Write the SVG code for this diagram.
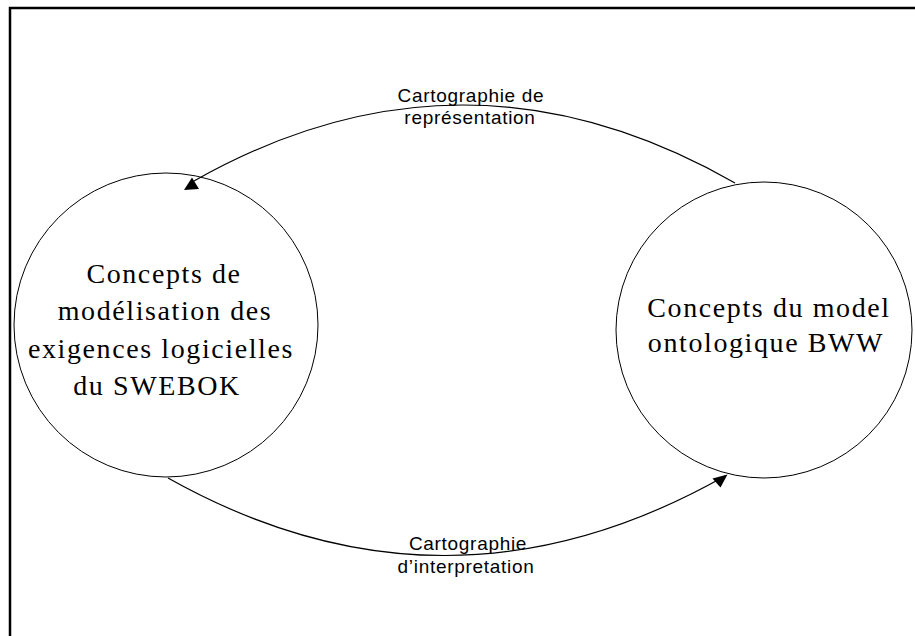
<svg xmlns="http://www.w3.org/2000/svg" width="915" height="636" viewBox="0 0 915 636">
  <style>
    .frame { fill: none; stroke: #000; stroke-width: 2.5; }
    .node { fill: none; stroke: #000; stroke-width: 1; }
    .node-text { font-family: "Liberation Serif", "Times New Roman", serif; font-size: 28px; letter-spacing: 1.6px; fill: #000; text-anchor: middle; }
    .edge { fill: none; stroke: #000; stroke-width: 1.2; }
    .head { fill: #000; stroke: none; }
    .edge-label { font-family: "Liberation Sans", Arial, sans-serif; font-size: 19px; letter-spacing: 0.7px; fill: #000; text-anchor: middle; }
  </style>

  <rect width="915" height="636" fill="#fff"/>
  <rect class="frame" x="10" y="8" width="920" height="650"/>

  <g id="node-swebok">
    <circle class="node" cx="166" cy="325" r="152"/>
    <text class="node-text" x="164" y="283">Concepts de</text>
    <text class="node-text" x="165" y="320">modélisation des</text>
    <text class="node-text" x="161" y="358">exigences logicielles</text>
    <text class="node-text" x="157" y="395">du SWEBOK</text>
  </g>

  <g id="node-bww">
    <circle class="node" cx="764" cy="330" r="148"/>
    <text class="node-text" x="769" y="317">Concepts du model</text>
    <text class="node-text" x="766" y="352">ontologique BWW</text>
  </g>

  <g id="connectors">
    <g id="edge-representation">
      <path class="edge" d="M735,183 Q464,28 194,181"/>
      <polygon class="head" points="192,177.5 184,190 199,189"/>
      <text class="edge-label" x="471" y="102">Cartographie de</text>
      <text class="edge-label" x="470" y="124">représentation</text>
    </g>
    <g id="edge-interpretation">
      <path class="edge" d="M168,478 Q446,634 725,476"/>
      <polygon class="head" points="727.5,474.5 712.5,478.5 720.5,487.5"/>
      <text class="edge-label" x="468" y="550">Cartographie</text>
      <text class="edge-label" x="466" y="573">d’interpretation</text>
    </g>
  </g>
</svg>
